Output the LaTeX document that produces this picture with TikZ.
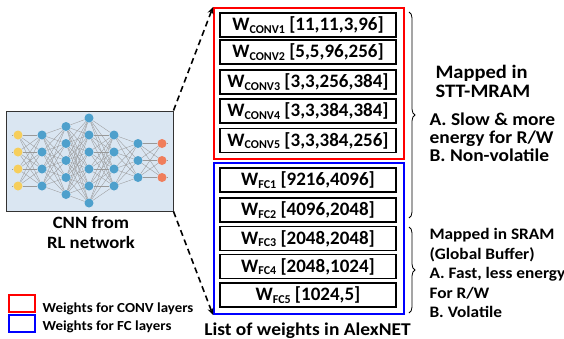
\documentclass[tikz,border=0pt]{standalone}
\usepackage{fontspec}
\setmainfont{Carlito}[Extension=.ttf, UprightFont=*-Regular, BoldFont=*-Bold, ItalicFont=*-Italic, BoldItalicFont=*-BoldItalic]
\newfontfamily\widebf{Carlito}[Extension=.ttf, UprightFont=*-Bold, FakeStretch=1.08]
\usetikzlibrary{decorations.pathreplacing,arrows.meta}

\definecolor{netbg}{RGB}{218,230,242}
\definecolor{inyel}{RGB}{246,206,92}
\definecolor{hidblu}{RGB}{78,160,204}
\definecolor{outorg}{RGB}{240,126,92}

\tikzset{
    wbox/.style={draw, line width=1.6pt, minimum width=176pt, minimum height=24pt, inner sep=0pt,
                 font=\fontsize{19}{19}\selectfont\bfseries},
    group/.style={draw=#1, line width=2pt, minimum width=190pt, minimum height=151pt, inner sep=0pt},
    neuron/.style={circle, inner sep=0pt, minimum size=9pt, fill=#1},
    syn/.style={draw=gray!80, line width=0.35pt},
    dasharrow/.style={line width=1.6pt, dash pattern=on 6pt off 4pt, -{Stealth[length=7pt,width=6pt]}},
    bracket/.style={decorate, decoration={brace, amplitude=6pt}, line width=0.8pt},
    note/.style={anchor=west, align=left, font=\widebf\fontsize{18}{19}\selectfont},
    legbox/.style={draw=#1, line width=2pt, minimum width=26pt, minimum height=17pt, inner sep=0pt},
    legtext/.style={anchor=west, font=\widebf\fontsize{13.8}{14}\selectfont}
}

\newcommand{\wname}[2]{W\raisebox{-0.3ex}{\fontsize{12}{12}\selectfont #1} #2}

\begin{document}
\begin{tikzpicture}[x=1pt, y=-1pt]
    \useasboundingbox (0,0) rectangle (564,338);

    \node[draw=black!80, line width=1pt, fill=netbg, minimum width=167pt, minimum height=100pt, inner sep=0pt] (cnn) at (89.5,161) {};
    \foreach \x/\n/\c [count=\l] in {18/4/inyel, 42/4/hidblu, 66/5/hidblu, 89/6/hidblu, 114/4/hidblu, 138/3/hidblu, 162/3/outorg}
        \foreach \i in {1,...,\n}
            \node[neuron=\c] (n\l-\i) at (\x, {160.5+(\i-(\n+1)/2)*17}) {};
    \foreach \a/\na/\b/\nb in {1/4/2/4, 2/4/3/5, 3/5/4/6, 4/6/5/4, 5/4/6/3, 6/3/7/3}
        \foreach \i in {1,...,\na}
            \foreach \j in {1,...,\nb}
                \draw[syn] (n\a-\i) -- (n\b-\j);
    \foreach \i in {1,...,4}
        \draw[syn] (n1-\i) -- +(-6,0);
    \foreach \i in {1,...,3}
        \draw[syn] (n7-\i) -- +(6,0);
    \node[align=center, font=\widebf\fontsize{17.3}{20}\selectfont] (cnncap) at (91,232.5) {CNN from\\RL network};

    \node[group=red] (conv) at (309,83.5) {};
    \node[group=blue] (fc) at (309,238.5) {};

    \foreach \y/\s/\d [count=\k] in {25/CONV1/{[11,11,3,96]}, 52/CONV2/{[5,5,96,256]}, 82/CONV3/{[3,3,256,384]},
                                     111/CONV4/{[3,3,384,384]}, 140.5/CONV5/{[3,3,384,256]}}
        \node[wbox] (wconv\k) at (308,\y) {\wname{\s}{\d}};
    \foreach \y/\s/\d [count=\k] in {180/FC1/{[9216,4096]}, 210/FC2/{[4096,2048]}, 238.5/FC3/{[2048,2048]},
                                     266.5/FC4/{[2048,1024]}, 295/FC5/{[1024,5]}}
        \node[wbox] (wfc\k) at (308,\y) {\wname{\s}{\d}};

    \draw[dasharrow] (cnn.north east) -- (conv.north west);
    \draw[dasharrow] (cnn.south east) -- (fc.south west);

    \coordinate (b1top) at (409,12);
    \coordinate (b1bot) at (409,218);
    \coordinate (b2top) at (409,227);
    \coordinate (b2bot) at (409,313);
    \draw[bracket] (b1top) -- (b1bot);
    \draw[bracket] (b2top) -- (b2bot);

    \node[note, font=\widebf\fontsize{19}{19}\selectfont] (mram) at (432,81.5) {Mapped in\\STT-MRAM};
    \node[note, font=\widebf\fontsize{18}{17.8}\selectfont] (mramprop) at (426,137) {A. Slow \& more\\energy for R/W\\B. Non-volatile};
    \node[note, font=\widebf\fontsize{16}{19.5}\selectfont] (sram) at (426,273) {Mapped in SRAM\\(Global Buffer)\\A. Fast, less energy\\For R/W\\B. Volatile};

    \node[anchor=base, font=\widebf\fontsize{18}{18}\selectfont] (title) at (307.5,335) {List of weights in AlexNET};

    \node[legbox=red] (legconv) at (22,303.5) {};
    \node[legbox=blue] (legfc) at (22,323.5) {};
    \node[legtext] (legconvtxt) at (39,308.5) {Weights for CONV layers};
    \node[legtext] (legfctxt) at (39,327) {Weights for FC layers};
\end{tikzpicture}
\end{document}
